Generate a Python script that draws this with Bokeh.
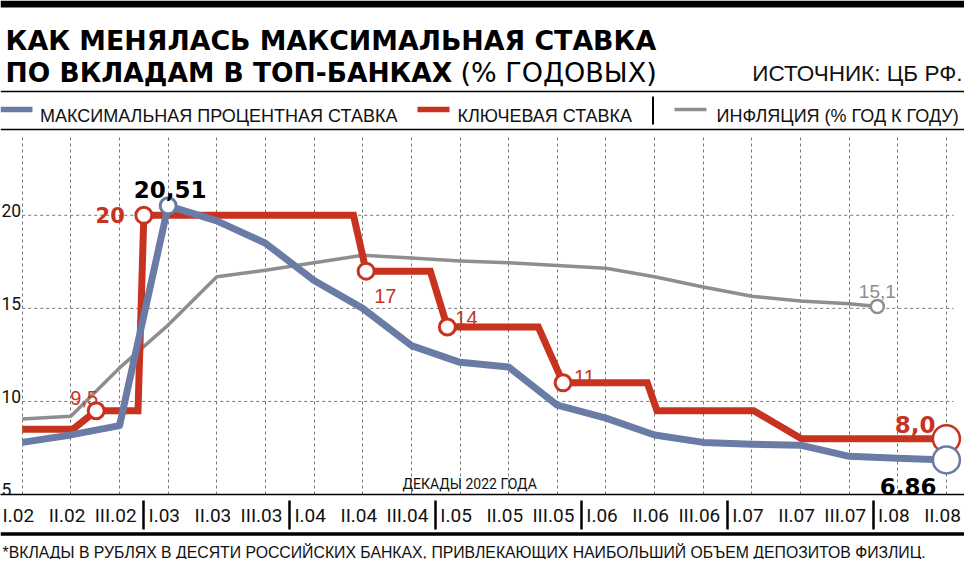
from bokeh.plotting import figure
from bokeh.models import (Range1d, FixedTicker, LinearAxis, Grid)
from bokeh.layouts import column
from bokeh.core.properties import value
from bokeh.embed import file_html
from bokeh.resources import INLINE

# ---------------- data ----------------
decade_labels = ["I.02", "II.02", "III.02", "I.03", "II.03", "III.03", "I.04", "II.04",
                 "III.04", "I.05", "II.05", "III.05", "I.06", "II.06", "III.06", "I.07",
                 "II.07", "III.07", "I.08", "II.08"]
decade_pos = list(range(len(decade_labels)))

# max deposit rate, % (one value per decade)
max_rate = [7.8, 8.2, 8.7, 20.51, 19.7, 18.5, 16.5, 15.0, 13.0, 12.1,
            11.85, 9.8, 9.1, 8.2, 7.8, 7.7, 7.65, 7.05, 6.95, 6.86]

# key rate, % (step changes inside decades)
key_x = [0, 1.04, 1.52, 2.38, 2.5, 6.81, 7.07, 8.39, 8.74, 10.61, 11.12, 12.85, 13.05, 15.04, 16.02, 19]
key_rate = [8.5, 8.5, 9.5, 9.5, 20, 20, 17, 17, 14, 14, 11, 11, 9.5, 9.5, 8.0, 8.0]

# inflation, % y/y
infl_x = [0, 1, 2, 3, 4, 5, 6, 7, 8, 9, 10, 11, 12, 13, 14, 15, 16, 17, 17.58]
inflation = [9.05, 9.2, 11.8, 14.1, 16.7, 17.05, 17.45, 17.85, 17.7, 17.55, 17.45,
             17.3, 17.15, 16.7, 16.15, 15.65, 15.4, 15.25, 15.1]

y_ticks = [5, 10, 15, 20]
y_tick_labels = ["5", "10", "15", "20"]
grid_y = [10, 15, 20]
month_breaks = [2.5, 5.5, 8.5, 11.5, 14.5, 17.5]

TITLE1 = "КАК МЕНЯЛАСЬ МАКСИМАЛЬНАЯ СТАВКА"
TITLE2 = "ПО ВКЛАДАМ В ТОП-БАНКАХ"
TITLE2B = "(% ГОДОВЫХ)"
SOURCE = "ИСТОЧНИК: ЦБ РФ."
LEG = ["МАКСИМАЛЬНАЯ ПРОЦЕНТНАЯ СТАВКА", "КЛЮЧЕВАЯ СТАВКА", "ИНФЛЯЦИЯ (% ГОД К ГОДУ)"]
XNOTE = "ДЕКАДЫ 2022 ГОДА"
FOOT = "*ВКЛАДЫ В РУБЛЯХ В ДЕСЯТИ РОССИЙСКИХ БАНКАХ, ПРИВЛЕКАЮЩИХ НАИБОЛЬШИЙ ОБЪЕМ ДЕПОЗИТОВ ФИЗЛИЦ."

# ---------------- style ----------------
RED = "#c8331f"
BLUE = "#6a7ca6"
GRAY = "#8e8e8e"
W = 964
H_HEAD, H_MAIN, H_FOOT = 134, 397, 28
SANS = value("Liberation Sans")
COND_NAME = "Roboto"
COND = value(COND_NAME)
WIDE = value("DejaVu Sans")
X0, X1 = -0.447, 19.372
LABEL_SHIFT = -0.08   # tick labels sit slightly left of their grid lines


def blank(h):
    f = figure(width=W, height=h, x_range=Range1d(0, W), y_range=Range1d(h, 0),
               output_backend="svg", toolbar_location=None, x_axis_type=None, y_axis_type=None,
               min_border=0, outline_line_color=None)
    return f


# ---------------- header ----------------
head = blank(H_HEAD)
head.segment(x0=[0], y0=[3.5], x1=[W], y1=[3.5], line_width=7, line_color="black")
head.text(x=[5], y=[39.6], text=[TITLE1], text_font=WIDE, text_font_style="bold",
          text_font_size="26.8px", text_baseline="alphabetic", text_color="black")
head.text(x=[5], y=[72.3], text=[TITLE2], text_font=WIDE, text_font_style="bold",
          text_font_size="26.5px", text_baseline="alphabetic", text_color="black")
head.text(x=[460], y=[72.3], text=[TITLE2B], text_font=WIDE,
          text_font_size="27px", text_baseline="alphabetic", text_color="black")
head.text(x=[962], y=[73.3], text=[SOURCE], text_font=SANS, text_align="right",
          text_font_size="22.5px", text_baseline="alphabetic", text_color="#111")
head.segment(x0=[0], y0=[91], x1=[W], y1=[91], line_width=1.5, line_color="black")
# legend
head.segment(x0=[0], y0=[109], x1=[32], y1=[109], line_width=5.5, line_color=BLUE)
head.text(x=[39.5], y=[115.5], text=[LEG[0]], text_font=SANS, text_font_size="18px",
          text_baseline="alphabetic", text_color="#111")
head.segment(x0=[417], y0=[109], x1=[449], y1=[109], line_width=5.5, line_color=RED)
head.text(x=[457], y=[115.5], text=[LEG[1]], text_font=SANS, text_font_size="18px",
          text_baseline="alphabetic", text_color="#111")
head.segment(x0=[652.5], y0=[96], x1=[652.5], y1=[124], line_width=2, line_color="black")
head.segment(x0=[674], y0=[109], x1=[706], y1=[109], line_width=3.5, line_color=GRAY)
head.text(x=[716], y=[115.5], text=[LEG[2]], text_font=SANS, text_font_size="18px",
          text_baseline="alphabetic", text_color="#111")
head.segment(x0=[0], y0=[129], x1=[W], y1=[129], line_width=1.5, line_color="black")

# ---------------- main chart ----------------
p = figure(width=W, height=H_MAIN, x_range=Range1d(X0, X1), y_range=Range1d(5, 24.34),
           output_backend="svg", toolbar_location=None, x_axis_type=None, y_axis_type=None,
           min_border_left=0, min_border_right=0, min_border_top=0, min_border_bottom=37,
           outline_line_color=None)

label_ticks = [round(i + LABEL_SHIFT, 2) for i in decade_pos]
xax = LinearAxis(ticker=FixedTicker(ticks=label_ticks, minor_ticks=month_breaks),
                 major_label_overrides={t: s for t, s in zip(label_ticks, decade_labels)},
                 axis_line_color="black", axis_line_width=1.5,
                 major_tick_in=0, major_tick_out=0, major_tick_line_color=None,
                 minor_tick_in=-35, minor_tick_out=6, minor_tick_line_color="black",
                 minor_tick_line_width=2.5, major_label_standoff=3,
                 major_label_text_font=COND_NAME, major_label_text_font_size="19px",
                 major_label_text_color="#111")
p.add_layout(xax, "below")

p.add_layout(Grid(dimension=0, ticker=FixedTicker(ticks=decade_pos), grid_line_color="#777",
                  grid_line_dash="3 3", grid_line_width=1))
# horizontal grid lines start at the first decade line
p.segment(x0=[decade_pos[0]] * len(grid_y), x1=[19.15] * len(grid_y), y0=grid_y, y1=grid_y,
          line_color="#777", line_dash="3 3", line_width=1)
# y tick labels, sitting above their grid lines
p.text(x=[X0] * len(y_ticks), y=y_ticks, text=y_tick_labels, x_offset=1, y_offset=-5,
       text_font=COND, text_font_size="17.5px", text_color="#111",
       text_baseline="alphabetic", text_align="left")

p.line(infl_x, inflation, line_color=GRAY, line_width=3.5, line_join="round")
p.line(key_x, key_rate, line_color=RED, line_width=7, line_join="miter")
p.line(decade_pos, max_rate, line_color=BLUE, line_width=7, line_join="round")

# markers
key_mark_idx = [2, 4, 6, 8, 10]
p.scatter([key_x[i] for i in key_mark_idx], [key_rate[i] for i in key_mark_idx], size=16,
          fill_color="white", line_color=RED, line_width=3)
p.scatter([infl_x[-1]], [inflation[-1]], size=13, fill_color="white", line_color=GRAY, line_width=2.5)
p.scatter([key_x[-1]], [key_rate[-1]], size=27, fill_color="white", line_color=RED, line_width=2.5)
p.scatter([decade_pos[3]], [max_rate[3]], size=16, fill_color="white", line_color=BLUE, line_width=3)
p.scatter([decade_pos[-1]], [max_rate[-1]], size=27, fill_color="white", line_color=BLUE, line_width=2.5)


def lab(x, y, t, color, size, font, bold=False, align="left", dx=0, dy=0, baseline="alphabetic"):
    p.text([x], [y], text=[t], text_color=color, text_font=font, text_font_size=size,
           text_font_style="bold" if bold else "normal", text_align=align,
           text_baseline=baseline, x_offset=dx, y_offset=dy)


lab(decade_pos[3], max_rate[3], "20,51", "black", "23px", WIDE, True, "center", 2, -16)
lab(key_x[4], key_rate[4], "20", RED, "21px", WIDE, True, "right", -19, 0, "middle")
lab(key_x[2], key_rate[2], "9,5", RED, "20px", SANS, False, "center", -12, -13)
lab(key_x[6], key_rate[6], "17", RED, "20px", SANS, False, "left", 8, 25)
lab(key_x[8], key_rate[8], "14", RED, "20px", SANS, False, "left", 8, -9)
lab(key_x[10], key_rate[10], "11", RED, "20px", SANS, False, "left", 11, -6)
lab(infl_x[-1], inflation[-1], "15,1", GRAY, "19px", SANS, False, "center", 0, -15)
lab(key_x[-1], key_rate[-1], "8,0", RED, "23px", WIDE, True, "right", -11, -14)
lab(decade_pos[-1], max_rate[-1], "6,86", "black", "23px", WIDE, True, "right", -10, 27)
p.text([9.2], [5.55], text=[XNOTE], text_color="#111", text_font=COND, text_font_size="14px",
       text_align="center", text_baseline="alphabetic")

# ---------------- footer ----------------
foot = blank(H_FOOT)
foot.segment(x0=[0], y0=[2.5], x1=[W], y1=[2.5], line_width=3.5, line_color="black")
foot.text(x=[2], y=[20.5], text=[FOOT], text_font=SANS, text_font_size="15.8px",
          text_baseline="alphabetic", text_color="#111")

layout = column(head, p, foot, spacing=0)
open("out.html", "w").write(file_html(layout, INLINE))
